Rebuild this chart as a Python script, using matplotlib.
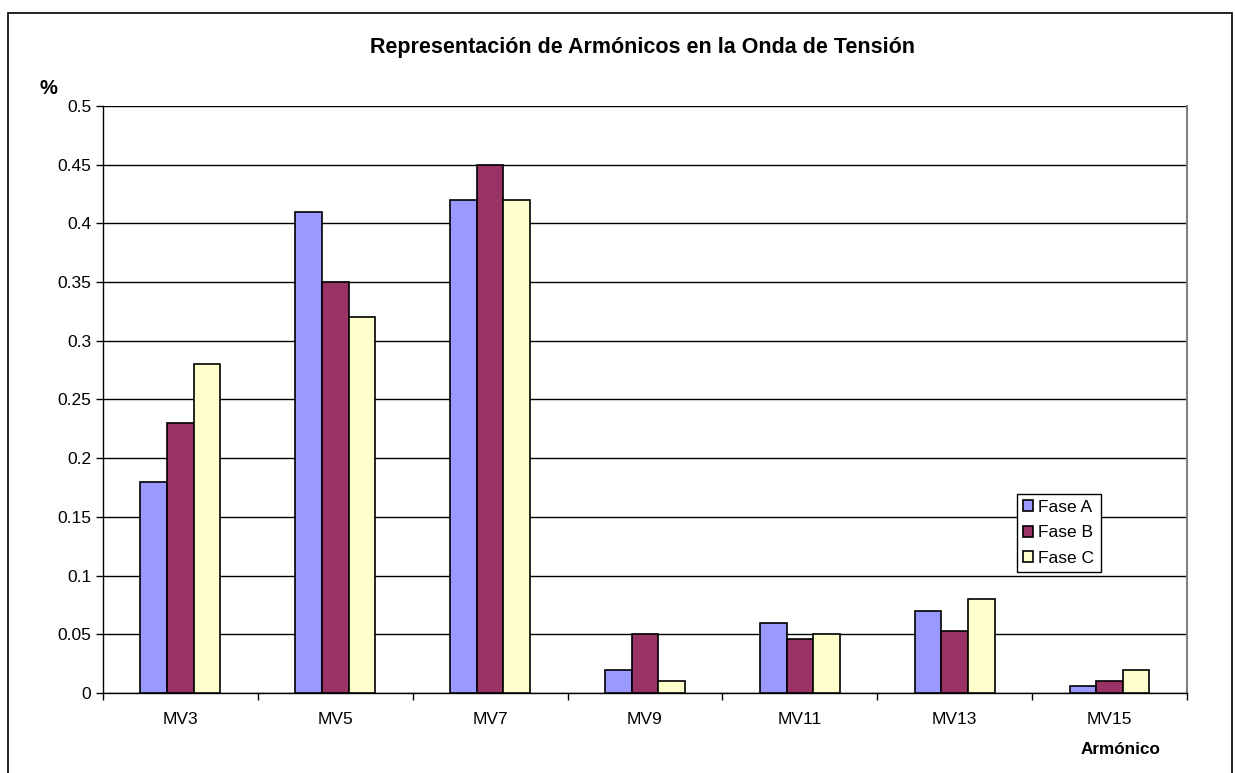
import matplotlib.pyplot as plt
import numpy as np
from matplotlib.patches import Rectangle

plt.rcParams['font.family'] = ['Liberation Sans', 'DejaVu Sans']

categorias = ['MV3', 'MV5', 'MV7', 'MV9', 'MV11', 'MV13', 'MV15']
fase_a = [0.18, 0.41, 0.42, 0.02, 0.06, 0.07, 0.006]
fase_b = [0.23, 0.35, 0.45, 0.05, 0.046, 0.053, 0.01]
fase_c = [0.28, 0.32, 0.42, 0.01, 0.05, 0.08, 0.02]
series = [('Fase A', fase_a, '#9999FF'),
          ('Fase B', fase_b, '#993366'),
          ('Fase C', fase_c, '#FFFFCC')]

fig = plt.figure(figsize=(12.35, 7.73), dpi=100)
ax = fig.add_axes([0.0834, 0.1035, 0.8777, 0.7595])

# outer chart frame
fig.patches.append(Rectangle((8/1235, -0.05), 1224/1235, 1.05 - 13/773,
                             transform=fig.transFigure, fill=False,
                             edgecolor='black', linewidth=1.2))

x = np.arange(len(categorias))
w = 0.172
for i, (name, vals, col) in enumerate(series):
    ax.bar(x + (i - 1) * w, vals, w, color=col, edgecolor='black',
           linewidth=1.2, label=name, zorder=3)

ax.set_xlim(-0.5, len(categorias) - 0.5)
ax.set_ylim(0, 0.5)
ax.set_yticks(np.arange(0, 0.501, 0.05))
ax.set_yticklabels(['0', '0.05', '0.1', '0.15', '0.2', '0.25', '0.3',
                    '0.35', '0.4', '0.45', '0.5'])
ax.yaxis.grid(True, color='black', linewidth=1)
ax.set_axisbelow(True)

ax.set_xticks(x)
ax.set_xticklabels(categorias)
ax.set_xticks(np.arange(-0.5, len(categorias), 1), minor=True)
ax.tick_params(axis='x', which='major', length=0, pad=14, labelsize=12.5)
ax.tick_params(axis='x', which='minor', length=5, width=1)
ax.tick_params(axis='y', length=5, width=1, labelsize=12.5)

ax.spines['top'].set_visible(False)
ax.spines['right'].set_color('#808080')
ax.spines['right'].set_linewidth(1.5)
ax.spines['left'].set_linewidth(1)
ax.spines['bottom'].set_linewidth(1)

fig.text(643/1235, 1 - 48/773, 'Representación de Armónicos en la Onda de Tensión',
         ha='center', va='center', fontsize=15.5, fontweight='bold')
fig.text(48/1235, 1 - 88/773, '%', ha='center', va='center',
         fontsize=14.5, fontweight='bold')
fig.text(1121/1235, 1 - 749/773, 'Armónico', ha='center', va='center',
         fontsize=12.3, fontweight='bold')

leg = ax.legend(loc='upper left', bbox_to_anchor=(0.843, 0.339),
                frameon=True, fancybox=False, edgecolor='black',
                fontsize=12.5, handlelength=0.6, handleheight=0.6,
                handletextpad=0.3, borderpad=0.35, labelspacing=0.6,
                borderaxespad=0)
leg.get_frame().set_linewidth(1)
leg.get_frame().set_alpha(1)

fig.savefig('out.png', dpi=100)
